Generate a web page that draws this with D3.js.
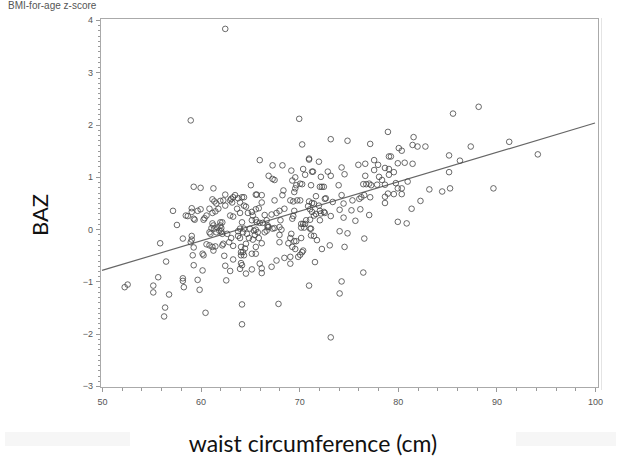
<html>
  <head>
  <meta charset="UTF-8">
  <script src="https://cdn.jsdelivr.net/npm/d3@7"></script>
  <style>
    body {
      margin: 0;
      background: #FFF;
      font: 9px Arial;
    }
    .axis path,
    .axis line {
      fill: none;
      stroke: #999;
      stroke-width: 1;
      shape-rendering: crispEdges;
    }
    .axis text {
      fill: #555;
      font: 9px Arial;
    }
  </style>
  </head>
  <body>
    <script>

      // Waist circumference (cm) of each child
      let waist = [
        62.5, 59.0, 70.0, 88.2, 85.6, 91.3, 94.2, 89.7, 87.4, 86.3, 85.2, 85.2, 85.3, 84.5, 83.2, 82.3,
        82.8, 82.0, 81.6, 81.5, 81.5, 81.4, 80.9, 80.0, 79.0, 80.1, 80.4, 79.1, 79.3, 80.0, 80.7, 79.6,
        79.1, 78.7, 79.1, 78.4, 78.1, 81.0, 79.8, 80.0, 80.4, 80.4, 79.6, 79.0, 78.7, 78.7, 78.7, 77.9,
        77.2, 77.6, 77.6, 78.0, 76.7, 76.7, 76.0, 76.8, 77.1, 76.5, 77.3, 76.6, 77.2, 76.1, 76.3, 76.2,
        77.1, 75.7, 75.4, 75.3, 76.6, 76.5, 74.9, 73.2, 74.3, 74.6, 74.0, 74.3, 74.5, 74.1, 74.5, 74.1,
        74.9, 74.6, 74.3, 74.1, 73.2, 73.1, 73.2, 73.4, 73.2, 72.9, 72.7, 72.5, 72.3, 71.8, 71.5, 71.6,
        71.0, 72.0, 71.4, 71.3, 71.0, 71.0, 70.4, 70.6, 70.3, 72.2, 72.3, 72.5, 72.1, 72.6, 71.2, 71.7,
        71.5, 71.3, 71.0, 70.9, 71.1, 71.3, 71.1, 70.7, 72.1, 72.2, 72.6, 72.1, 71.7, 70.1, 70.3, 69.7,
        69.6, 69.2, 69.3, 69.5, 69.6, 69.8, 70.1, 69.1, 69.4, 68.3, 68.4, 68.3, 67.3, 67.5, 67.3, 66.9,
        67.5, 68.0, 68.5, 67.7, 67.2, 66.5, 66.2, 66.2, 66.0, 65.1, 65.6, 65.7, 65.9, 69.5, 69.4, 69.3,
        70.2, 70.4, 70.6, 70.2, 70.5, 71.1, 68.1, 68.0, 68.0, 68.2, 67.3, 67.5, 66.8, 66.7, 66.3, 66.0,
        65.7, 65.6, 65.3, 65.2, 64.8, 65.2, 65.6, 64.6, 64.4, 64.0, 64.2, 64.4, 63.8, 63.5, 63.3, 63.1,
        63.2, 63.0, 62.5, 62.3, 62.5, 62.0, 61.8, 61.3, 61.2, 61.4, 61.6, 60.9, 61.5, 61.2, 60.6, 60.4,
        60.3, 60.0, 59.3, 59.3, 59.4, 59.1, 60.0, 59.7, 59.1, 58.5, 58.7, 57.2, 57.6, 58.2, 55.9, 56.5,
        55.7, 55.2, 55.2, 56.8, 56.4, 56.3, 52.3, 52.6, 58.2, 58.2, 58.3, 59.7, 59.9, 60.5, 60.2, 59.3,
        59.2, 59.3, 59.1, 59.1, 59.0, 60.2, 60.3, 60.6, 60.9, 61.2, 61.3, 61.5, 60.9, 61.0, 61.1, 61.3,
        61.4, 61.6, 61.2, 61.7, 61.9, 62.0, 62.2, 62.0, 62.1, 62.1, 62.2, 62.3, 62.2, 62.4, 62.5, 62.6,
        63.0, 62.7, 63.1, 63.0, 63.3, 62.9, 63.3, 63.3, 63.8, 63.8, 64.0, 64.1, 64.1, 64.1, 64.3, 64.0,
        64.3, 64.4, 64.2, 64.0, 63.7, 64.1, 64.2, 64.0, 64.2, 64.2, 64.6, 64.4, 64.5, 64.6, 64.9, 64.7,
        65.0, 65.3, 65.5, 65.4, 65.6, 65.2, 65.6, 65.2, 66.0, 66.2, 66.2, 66.2, 65.6, 65.9, 67.2, 67.7,
        68.5, 68.0, 69.1, 69.1, 69.3, 68.9, 69.1, 69.2, 69.5, 69.6, 69.9, 70.1, 70.3, 70.4, 70.2, 69.7,
        67.9, 66.9, 66.5, 66.7, 66.8, 65.8, 71.2, 71.2, 71.5, 72.0
      ];

      // BMI-for-age z-score (BAZ) of each child
      let baz = [
        3.83, 2.08, 2.11, 2.34, 2.21, 1.67, 1.43, 0.78, 1.58, 1.31, 1.41, 1.09, 0.78, 0.72, 0.76, 0.54,
        1.58, 1.58, 1.76, 1.61, 1.25, 0.39, 0.11, 0.14, 1.86, 1.55, 1.50, 1.39, 1.39, 1.26, 1.27, 1.09,
        1.15, 1.17, 1.04, 0.94, 1.00, 0.91, 0.88, 0.78, 0.78, 0.67, 0.67, 0.68, 0.62, 0.50, 0.85, 0.85,
        1.63, 1.32, 1.13, 1.23, 1.25, 1.02, 1.23, 0.86, 0.87, 0.86, 0.84, 0.65, 0.61, 0.58, 0.61, 0.38,
        0.27, 0.16, 0.55, 0.36, -0.18, -0.83, 1.69, 1.72, 1.18, 1.05, 0.84, 0.65, 0.49, 0.37, 0.22, -0.04,
        -0.08, -0.34, -1.00, -1.23, -2.07, -0.31, 0.25, 0.52, 1.02, 1.10, 0.59, 0.33, -0.38, -0.21, -0.13, -0.63,
        -1.08, 1.29, 1.10, 1.10, 1.35, 1.33, 1.15, 1.04, 1.62, 1.00, 0.81, 0.81, 0.81, 0.58, 0.84, 0.63,
        0.49, 0.50, 0.53, 0.44, 0.38, 0.33, 0.18, 0.17, 0.35, 0.30, 0.31, 0.17, 0.29, 0.87, 0.86, 0.84,
        0.99, 1.12, 0.93, 0.71, 0.78, 0.55, 0.55, 0.55, 0.53, 0.65, 0.74, 1.22, 1.22, 0.94, 0.96, 1.02,
        0.55, 0.35, 0.39, 0.31, 0.28, 0.27, 0.51, 0.65, 1.32, 0.84, 0.66, 0.66, 0.40, 0.35, 0.25, 0.20,
        0.10, 0.10, 0.10, 0.03, 0.03, 0.01, 0.17, 0.04, -0.11, -0.01, 0.01, 0.02, 0.04, 0.17, 0.12, 0.12,
        0.13, 0.18, 0.26, 0.17, 0.31, 0.33, 0.38, 0.43, 0.45, 0.51, 0.61, 0.61, 0.59, 0.65, 0.61, 0.58,
        0.51, 0.55, 0.66, 0.55, 0.45, 0.54, 0.39, 0.78, 0.57, 0.53, 0.49, 0.39, 0.34, 0.31, 0.26, 0.21,
        0.18, 0.79, 0.81, 0.20, 0.18, 0.40, 0.38, 0.35, 0.33, 0.26, 0.25, 0.35, 0.08, -0.18, -0.27, -0.62,
        -0.92, -1.08, -1.21, -1.25, -1.50, -1.67, -1.11, -1.06, -0.94, -0.99, -1.11, -0.97, -1.16, -1.60, -0.79, -0.69,
        -0.50, -0.35, -0.20, -0.13, -0.25, -0.47, -0.50, -0.29, -0.31, -0.34, -0.41, -0.33, -0.06, -0.09, 0.02, 0.07,
        0.01, -0.06, 0.11, 0.03, -0.03, 0.13, 0.13, 0.07, 0.02, -0.04, -0.09, -0.28, -0.31, -0.51, -0.70, -0.98,
        -0.80, -0.09, -0.17, 0.26, 0.24, -0.25, -0.32, -0.58, -0.04, -0.13, -0.17, -0.34, -0.44, -0.50, -0.44, 0.01,
        -0.06, 0.01, 0.13, 0.31, 0.39, -0.65, -0.69, -0.76, -1.44, -1.82, -0.85, -0.50, -0.37, -0.28, -0.17, -0.09,
        0.01, -0.20, -0.11, -0.03, -0.01, -0.47, -0.47, -0.77, -0.66, -0.75, -0.84, -0.27, -0.34, -0.17, -0.72, -0.60,
        -0.55, -0.25, -0.66, -0.53, -0.34, -0.27, -0.17, -0.09, -0.23, -0.38, -0.53, -0.49, -0.44, -0.41, -0.17, -0.23,
        -1.43, 0.04, -0.06, -0.03, 0.07, -0.06, 0.01, -0.12, 0.26, 0.45
      ];

      // Fitted regression line (end points)
      let fitX = [50, 100];
      let fitY = [-0.79, 2.03];

      // Axis ticks
      let xTicks = [50, 60, 70, 80, 90, 100];
      let yTicks = [-3, -2, -1, 0, 1, 2, 3, 4];

      let points = waist.map(function(w, i) { return {x: w, y: baz[i]}; });

      var width = 621, height = 466;

      var svg = d3.select("body")
        .append("svg")
          .attr("width", width)
          .attr("height", height);

      // Scales

      var x = d3.scaleLinear().domain([50, 100]).range([102, 595]);
      var y = d3.scaleLinear().domain([-3, 4]).range([386, 20]);

      // Faint bands under the plot (from the scanned figure)

      svg.append("rect")
        .attr("x", 5).attr("y", 432).attr("width", 125).attr("height", 14)
        .attr("fill", "#F6F6F6");
      svg.append("rect")
        .attr("x", 516).attr("y", 432).attr("width", 100).attr("height", 14)
        .attr("fill", "#F6F6F6");

      // Plot frame

      svg.append("rect")
        .attr("x", 100.5)
        .attr("y", 18.5)
        .attr("width", 498)
        .attr("height", 369)
        .attr("fill", "none")
        .attr("stroke", "#AAA")
        .attr("stroke-width", 1);

      svg.append("line")
        .attr("x1", 601.5).attr("x2", 601.5)
        .attr("y1", 18).attr("y2", 390)
        .attr("stroke", "#E4E4E4");

      // Minor ticks

      var xMinor = d3.axisBottom(x)
        .tickValues(d3.range(50, 101, 2))
        .tickSize(3)
        .tickFormat("");
      svg.append("g")
        .attr("class", "x axis")
        .attr("transform", "translate(0,388)")
        .call(xMinor)
        .select(".domain").remove();

      var yMinor = d3.axisLeft(y)
        .tickValues(d3.range(-30, 41).map(function(d) { return d / 10; }))
        .tickSize(2)
        .tickFormat("");
      svg.append("g")
        .attr("class", "y axis")
        .attr("transform", "translate(100,0)")
        .call(yMinor)
        .select(".domain").remove();

      // Major ticks with labels

      var xAxis = d3.axisBottom(x)
        .tickValues(xTicks)
        .tickSize(4)
        .tickPadding(7)
        .tickFormat(d3.format("d"));
      svg.append("g")
        .attr("class", "x axis")
        .attr("transform", "translate(0,388)")
        .call(xAxis)
        .select(".domain").remove();

      var yAxis = d3.axisLeft(y)
        .tickValues(yTicks)
        .tickSize(4)
        .tickPadding(3)
        .tickFormat(d3.format("d"));
      svg.append("g")
        .attr("class", "y axis")
        .attr("transform", "translate(100,0)")
        .call(yAxis)
        .select(".domain").remove();

      // Regression line

      var fitLine = d3.line()
        .x(function(d) { return x(d[0]); })
        .y(function(d) { return y(d[1]); });

      svg.append("path")
        .attr("d", fitLine(fitX.map(function(v, i) { return [v, fitY[i]]; })))
        .attr("fill", "none")
        .attr("stroke", "#666")
        .attr("stroke-width", 1.2);

      // Scatter points

      svg.selectAll(".dot")
        .data(points)
        .enter().append("circle")
          .attr("class", "dot")
          .attr("r", 2.8)
          .attr("cx", function(d) { return x(d.x); })
          .attr("cy", function(d) { return y(d.y); })
          .attr("fill", "none")
          .attr("stroke", "#444")
          .attr("stroke-width", 0.8);

      // Labels

      svg.append("text")
        .attr("x", 8)
        .attr("y", 9)
        .style("font", "10px Arial")
        .style("fill", "#555")
        .text("BMI-for-age z-score");

      svg.append("text")
        .attr("transform", "translate(48,215) rotate(-90)")
        .attr("text-anchor", "middle")
        .style("font", "400 22px Lato")
        .style("fill", "#111")
        .text("BAZ");

      svg.append("text")
        .attr("x", 313)
        .attr("y", 452)
        .attr("text-anchor", "middle")
        .style("font", "400 23px Lato")
        .style("fill", "#111")
        .text("waist circumference (cm)");

    </script>
  </body>
</html>
